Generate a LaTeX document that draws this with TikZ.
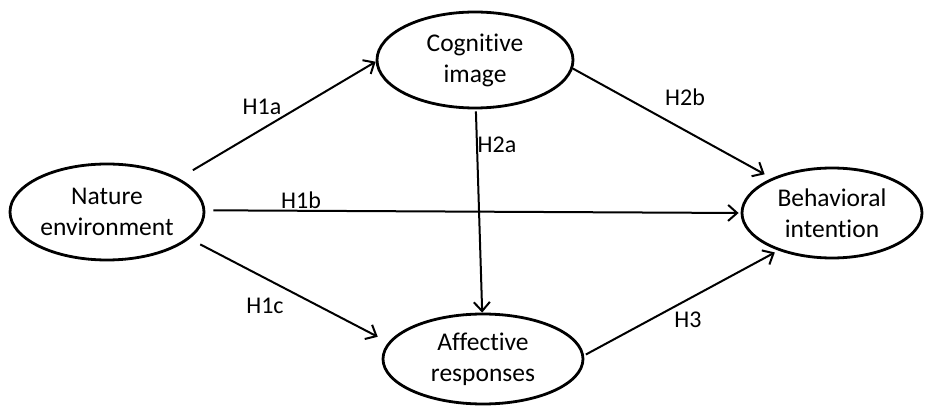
\documentclass[tikz,border=0pt]{standalone}
\usepackage{fontspec}
\setmainfont{Carlito}[Ligatures={NoCommon}]
\usetikzlibrary{arrows.meta,shapes.geometric}
\begin{document}
\begin{tikzpicture}[x=1pt,y=-1pt,
  construct/.style={draw=black,line width=2.8pt,shape=ellipse,inner sep=0pt,
    align=center,font=\fontsize{25.5}{31}\selectfont},
  link/.style={draw=black,line width=2pt,
    -{Straight Barb[length=9pt,width=16pt,line width=2pt]}},
  hyp/.style={font=\fontsize{24}{28}\selectfont,inner sep=0pt}]
\useasboundingbox (0,0) rectangle (927,406);

% constructs
\node[construct,minimum width=194pt,minimum height=96pt] (ne) at (107,212) {Nature\\environment};
\node[construct,minimum width=196pt,minimum height=96pt] (ci) at (475,60) {Cognitive\\image};
\node[construct,minimum width=200pt,minimum height=90pt] (ar) at (483,359) {Affective\\responses};
\node[construct,minimum width=180pt,minimum height=90pt] (bi) at (832,213) {Behavioral\\intention};

% hypothesised paths
\draw[link,shorten <=16pt] (ne.25) -- (ci.181);
\draw[link,shorten <=8pt,shorten >=2pt] (ne.1) -- (bi.180);
\draw[link,shorten <=12pt,shorten >=12pt] (ne.-18) -- (ar.170);
\draw[link,shorten <=2pt] (ci.-89) -- (ar.91);
\draw[link,shorten >=8pt] (ci.-5) -- (bi.150);
\draw[link,shorten <=2pt,shorten >=4pt] (ar.2) -- (bi.215);

% path labels
\node[hyp] (h1a) at (262,107) {H1a};
\node[hyp] (h1b) at (301,200) {H1b};
\node[hyp] (h1c) at (265,306) {H1c};
\node[hyp] (h2a) at (497,145) {H2a};
\node[hyp] (h2b) at (685,97) {H2b};
\node[hyp] (h3) at (688,320) {H3};
\end{tikzpicture}
\end{document}
